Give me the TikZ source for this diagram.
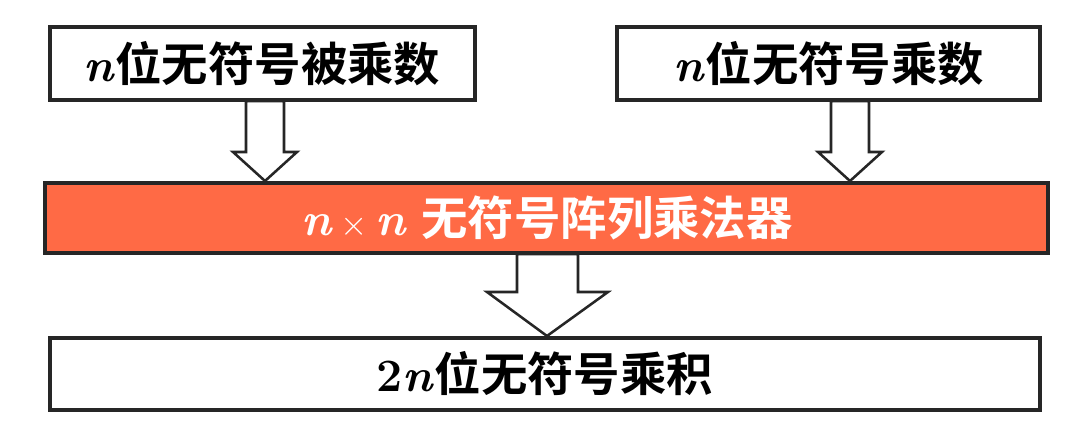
\documentclass[tikz,border=0pt]{standalone}
\usepackage{fontspec}
\newfontfamily\cjkfont{Noto Sans CJK SC Bold}
\definecolor{myorange}{RGB}{255,106,69}
\newcommand{\nn}{\textbf{\textit{n}}}
\tikzset{
  mybox/.style={draw=black!85,line width=2.2pt},
  mylbl/.style={font=\fontsize{33}{38}\selectfont},
  harrow/.style={draw=black!85,line width=1.8pt,fill=white}}
\begin{document}
\begin{tikzpicture}[x=0.025cm,y=0.025cm]
\useasboundingbox (0,0) rectangle (1086,-438);
\filldraw[mybox,fill=white] (50,-27) rectangle (475,-100);
\node[mylbl] (a) at (262,-64) {\nn\cjkfont 位无符号被乘数};
\filldraw[mybox,fill=white] (617,-27) rectangle (1040,-100);
\node[mylbl] (b) at (829,-64) {\nn\cjkfont 位无符号乘数};
\filldraw[mybox,fill=myorange] (45,-183) rectangle (1048,-253);
\node[mylbl,text=white] (m) at (547,-218) {\nn${}\times{}$\nn\ \cjkfont 无符号阵列乘法器};
\filldraw[mybox,fill=white] (50,-338) rectangle (1040,-410);
\node[mylbl] (p) at (545,-374) {\textbf{2}\nn\cjkfont 位无符号乘积};
\draw[harrow] (246,-101) -- (284,-101) -- (284,-152) -- (297,-152) -- (265,-181) -- (233,-152) -- (246,-152) -- cycle;
\draw[harrow] (831,-101) -- (869,-101) -- (869,-152) -- (882,-152) -- (850,-181) -- (818,-152) -- (831,-152) -- cycle;
\draw[harrow] (517,-254) -- (578,-254) -- (578,-292) -- (608,-292) -- (547,-336) -- (487,-292) -- (517,-292) -- cycle;
\end{tikzpicture}
\end{document}
